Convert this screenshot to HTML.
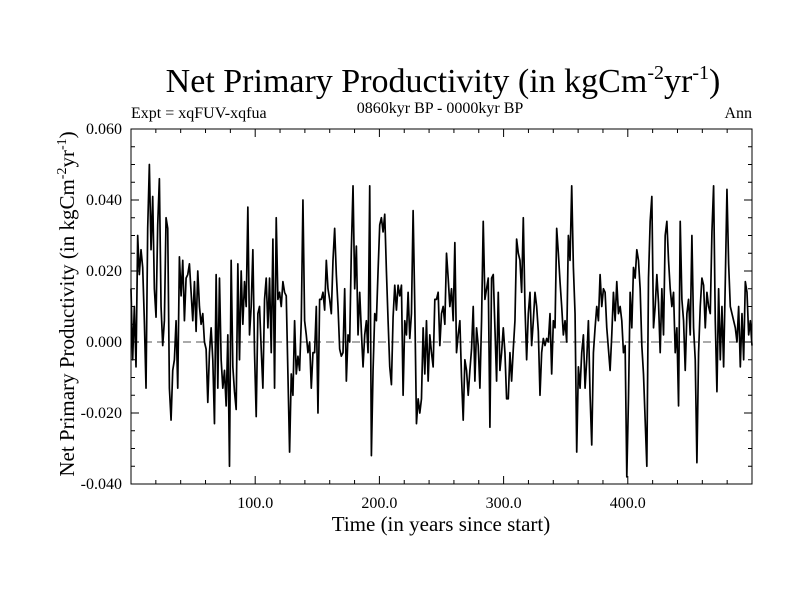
<!DOCTYPE html>
<html><head><meta charset="utf-8"><style>
html,body{margin:0;padding:0;background:#fff;}
svg{display:block;font-family:"Liberation Serif",serif;}
</style></head><body>
<svg id="chart" width="800" height="600" viewBox="0 0 800 600">
<text x="443" y="92" font-size="34" text-anchor="middle">Net Primary Productivity (in kgCm<tspan dy="-13" font-size="20">-2</tspan><tspan dy="13">yr</tspan><tspan dy="-13" font-size="20">-1</tspan><tspan dy="13">)</tspan></text>
<text x="131" y="118" font-size="16">Expt = xqFUV-xqfua</text>
<text x="440" y="113" font-size="16" text-anchor="middle">0860kyr BP - 0000kyr BP</text>
<text x="752" y="118" font-size="16" text-anchor="end">Ann</text>
<text x="441" y="531" font-size="21" text-anchor="middle">Time (in years since start)</text>
<text transform="translate(74,304) rotate(-90)" font-size="21" text-anchor="middle">Net Primary Productivity (in kgCm<tspan dy="-8" font-size="14">-2</tspan><tspan dy="8">yr</tspan><tspan dy="-8" font-size="14">-1</tspan><tspan dy="8">)</tspan></text>
<g id="axes"></g>
<g id="series"></g>
</svg>
<script>
const xTickValues = [100, 200, 300, 400];
const xTickLabels = ["100.0", "200.0", "300.0", "400.0"];
const yTickValues = [0.06, 0.04, 0.02, 0, -0.02, -0.04];
const yTickLabels = ["0.060", "0.040", "0.020", "0.000", "-0.020", "-0.040"];
const xDomain = [0, 500];
const yDomain = [-0.04, 0.06];
// NPP anomaly in units of 0.001 kgC m-2 yr-1, evenly sampled across years 0-500
const nppMilli = [
15,-5,10,-7,30,19,26,21,6,-13,32,50,26,41,15,7,33,46,10,-1,6,35,32,-13,-22,-8,-5,6,-13,24,13,23,6,18,19,22,14,6,17,3,20,10,5,8,0,-2,-17,-3,4,-5,-23,19,-13,18,-5,-13,-8,-18,2,-35,23,-7,-14,-19,22,-5,20,5,17,10,38,2,10,26,-3,-21,8,10,-2,-13,12,18,4,18,-3,29,-13,35,12,14,10,17,14,13,-9,-31,-9,-15,6,-9,-4,-8,6,40,6,2,-3,0,-13,-3,-3,10,-20,12,12,14,9,23,15,12,8,23,32,19,10,
-2,-4,-3,15,-11,2,0,26,44,15,27,2,14,3,-7,2,6,-3,44,-32,-8,8,6,20,33,35,31,36,20,6,-7,-12,7,16,9,16,13,16,-15,6,2,14,1,8,37,10,-23,-16,-20,-16,4,-9,6,-11,2,-3,-7,12,12,14,-1,8,10,5,25,18,10,15,6,28,-3,2,6,-10,-22,-5,-8,-15,-8,-2,10,-11,4,-1,-13,6,34,12,15,18,-24,18,19,4,-11,14,-8,-3,4,-3,-16,-16,-3,-11,-2,6,29,25,23,14,35,10,-5,8,14,-1,6,14,10,3,-15,-3,1,-1,1,0,
8,-9,6,4,32,25,17,10,2,6,0,30,23,44,21,8,-31,-7,-13,-3,2,-13,-5,6,-15,-29,-3,4,10,6,19,10,15,14,4,-2,-8,2,14,6,17,8,10,6,-3,-1,-38,-16,14,4,21,18,26,23,15,-1,-9,-22,-35,18,34,41,4,10,19,11,-3,15,2,30,34,23,15,10,14,-3,4,-18,34,12,6,-8,8,12,2,30,4,-5,-34,-3,10,18,16,4,14,10,8,31,44,6,-14,15,-5,10,-7,17,43,22,10,8,6,4,0,10,-7,8,-5,17,14,2,6,-1
];
const NS = "http://www.w3.org/2000/svg";
const L = 131, R = 752, T = 129, B = 484;
function xScale(v){ return L + (v - xDomain[0]) / (xDomain[1] - xDomain[0]) * (R - L); }
function yScale(v){ return B - (v - yDomain[0]) / (yDomain[1] - yDomain[0]) * (B - T); }
function mk(tag, attrs, parent){ const e = document.createElementNS(NS, tag); for (const k in attrs) e.setAttribute(k, attrs[k]); parent.appendChild(e); return e; }
const axes = document.getElementById('axes');
const frame = mk('rect', {x:L, y:T, width:R-L, height:B-T, fill:'none', stroke:'#000', 'stroke-width':1}, axes);


const zero = mk('line', {x1:L, x2:R, y1:yScale(0), y2:yScale(0), stroke:'#555', 'stroke-width':1, 'stroke-dasharray':'8,5'}, axes);


for (let v = 20; v < 500; v += 20) {
  const len = (v % 100 === 0) ? 8 : 4;
  const x = xScale(v);
  const t1 = mk('line', {x1:x, x2:x, y1:B, y2:B-len, stroke:'#000'}, axes);
  
  
  const t2 = mk('line', {x1:x, x2:x, y1:T, y2:T+len, stroke:'#000'}, axes);
  
  
}
xTickValues.forEach((v, i) => {
  const t = mk('text', {x:xScale(v), y:B+24, 'font-size':16, 'text-anchor':'middle'}, axes);
  t.textContent = xTickLabels[i];
  
  
});
for (let k = 1; k < 20; k++) {
  const v = yDomain[0] + k * 0.005;
  const len = (k % 4 === 0) ? 8 : 4;
  const y = yScale(v);
  const t1 = mk('line', {x1:L, x2:L+len, y1:y, y2:y, stroke:'#000'}, axes);
  
  
  const t2 = mk('line', {x1:R, x2:R-len, y1:y, y2:y, stroke:'#000'}, axes);
  
  
}
yTickValues.forEach((v, i) => {
  const t = mk('text', {x:122, y:yScale(v)+5, 'font-size':16, 'text-anchor':'end'}, axes);
  t.textContent = yTickLabels[i];
  
  
});
const n = nppMilli.length;
const pts = nppMilli.map((m, i) => {
  const yr = xDomain[0] + i * (xDomain[1] - xDomain[0]) / (n - 1);
  return xScale(yr).toFixed(2) + ',' + yScale(m * 0.001).toFixed(2);
}).join(' ');
const line = mk('polyline', {points:pts, fill:'none', stroke:'#000', 'stroke-width':1.7, 'stroke-linejoin':'round'}, document.getElementById('series'));


</script>
</body></html>
